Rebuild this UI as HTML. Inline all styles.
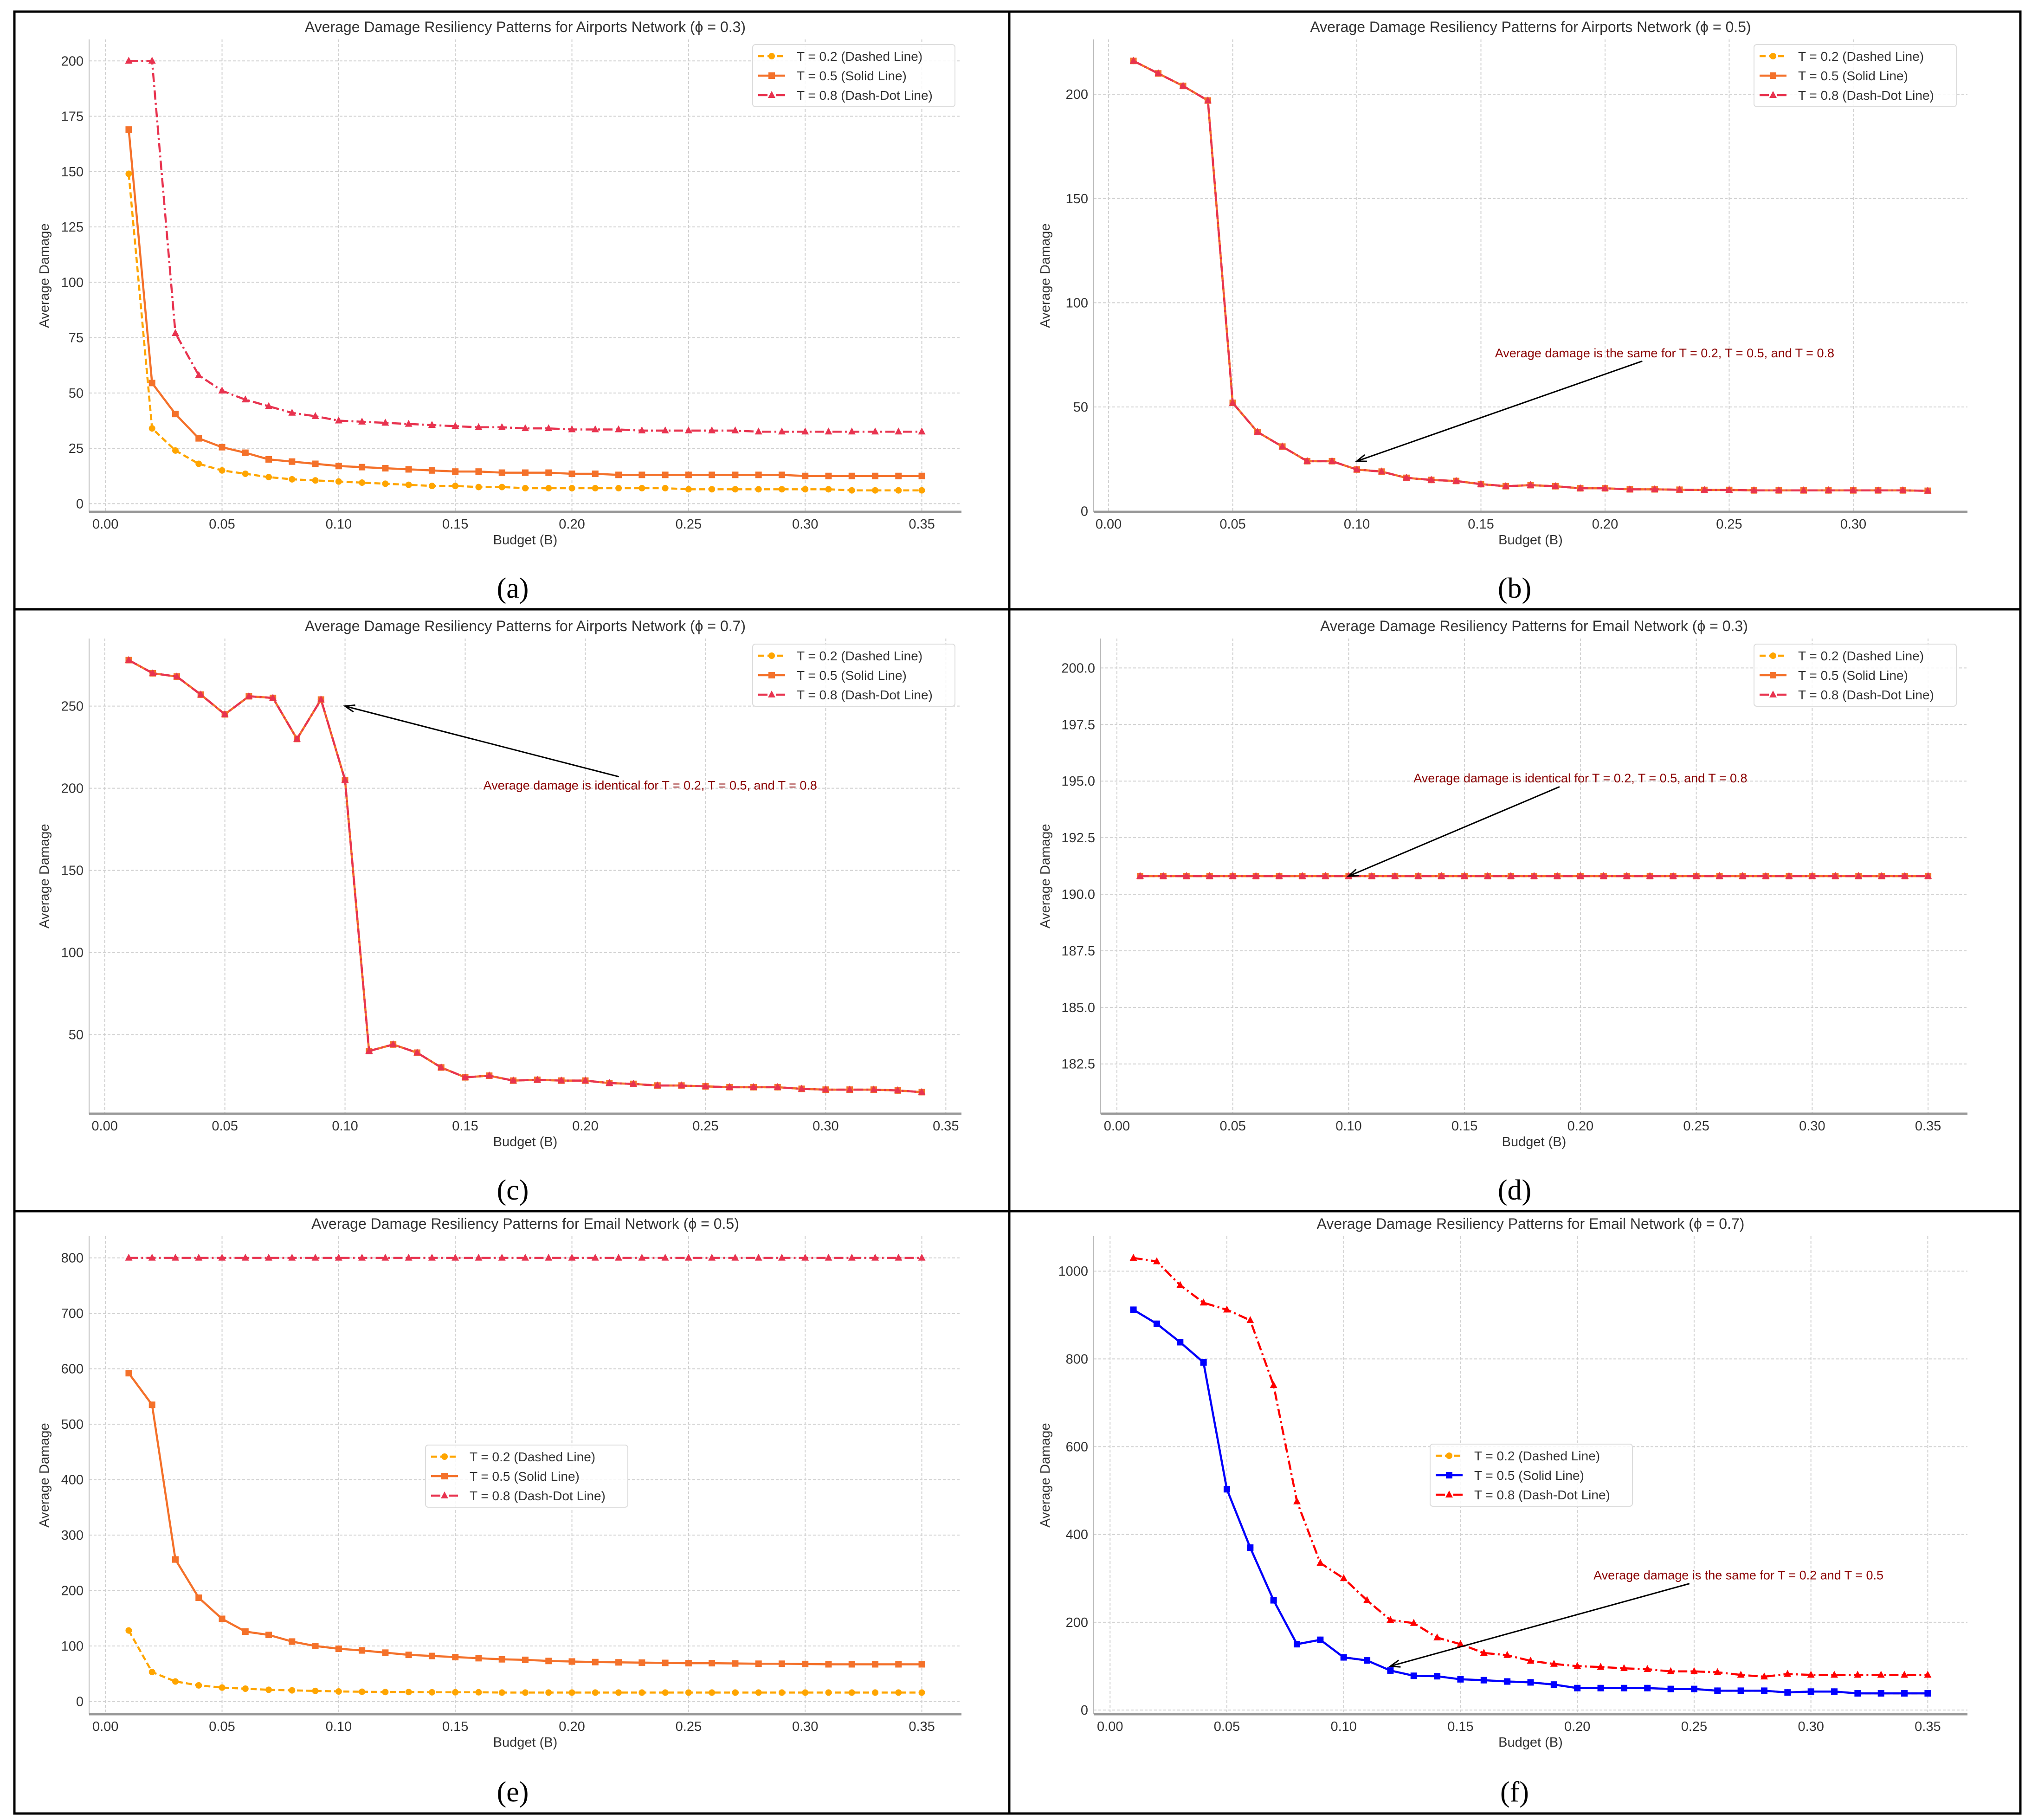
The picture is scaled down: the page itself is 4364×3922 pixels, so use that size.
<!DOCTYPE html>
<html><head><meta charset="utf-8"><style>
html,body{margin:0;padding:0;background:#fff;}
svg{display:block;font-family:"Liberation Sans","DejaVu Sans",sans-serif;}
</style></head><body>
<svg id="fig" width="4364" height="3922" viewBox="0 0 4364 3922" xmlns="http://www.w3.org/2000/svg">
<rect x="0" y="0" width="4364" height="3922" fill="#fff"/>
<g stroke="#000" stroke-width="5" fill="none">
<rect x="31" y="25" width="4323" height="3883"/>
<line x1="2175" y1="25" x2="2175" y2="3908"/>
<line x1="31" y1="1313" x2="4354" y2="1313"/>
<line x1="31" y1="2610" x2="4354" y2="2610"/>
</g>
</svg>
<script>
// ---------- data ----------
const budget35 = [0.01,0.02,0.03,0.04,0.05,0.06,0.07,0.08,0.09,0.10,0.11,0.12,0.13,0.14,0.15,0.16,0.17,0.18,0.19,0.20,0.21,0.22,0.23,0.24,0.25,0.26,0.27,0.28,0.29,0.30,0.31,0.32,0.33,0.34,0.35];
const budget33 = budget35.slice(0,33);
const budget34 = budget35.slice(0,34);

const aT02 = [149,34,24,18,15,13.5,12,11,10.5,10,9.5,9,8.5,8,8,7.5,7.5,7,7,7,7,7,7,7,6.5,6.5,6.5,6.5,6.5,6.5,6.5,6,6,6,6];
const aT05 = [169,54.5,40.5,29.5,25.5,23,20,19,18,17,16.5,16,15.5,15,14.5,14.5,14,14,14,13.5,13.5,13,13,13,13,13,13,13,13,12.5,12.5,12.5,12.5,12.5,12.5];
const aT08 = [200,200,77,58,51,47,44,41,39.5,37.5,37,36.5,36,35.5,35,34.5,34.5,34,34,33.5,33.5,33.5,33,33,33,33,33,32.5,32.5,32.5,32.5,32.5,32.5,32.5,32.5];

const bAll = [216,210,204,197,52,38,31,24,24,20,19,16,15,14.5,13,12,12.5,12,11,11,10.5,10.5,10.3,10.2,10.2,10,10,10,10,10,10,10,9.8];

const cAll = [278,270,268,257,245,256,255,230,254,205,40,44,39,30,24,25,22,22.5,22,22,20.5,20,19,19,18.5,18,18,18,17,16.5,16.5,16.5,16,15];

const dAll = [190.8,190.8,190.8,190.8,190.8,190.8,190.8,190.8,190.8,190.8,190.8,190.8,190.8,190.8,190.8,190.8,190.8,190.8,190.8,190.8,190.8,190.8,190.8,190.8,190.8,190.8,190.8,190.8,190.8,190.8,190.8,190.8,190.8,190.8,190.8];

const eT02 = [128,53,36,29,25,23,21,20,19,18,17.5,17,17,16.5,16.5,16.5,16,16,16,16,16,16,16,16,16,16,16,16,16,16,16,16,16,16,16];
const eT05 = [592,535,256,187,149,126,120,108,100,95,92,88,84,82,80,78,76,75,73,72,71,70.5,70,69.5,69,69,68.5,68,68,67.5,67,67,67,67,67];
const eT08 = [800,800,800,800,800,800,800,800,800,800,800,800,800,800,800,800,800,800,800,800,800,800,800,800,800,800,800,800,800,800,800,800,800,800,800];

const fT05 = [912,880,838,792,503,370,250,150,160,120,113,90,78,77,70,68,65,63,58,50,50,50,50,48,48,44,44,44,40,42,42,38,38,38,38];
const fT02 = fT05.slice();
const fT08 = [1030,1022,968,928,912,888,740,475,335,300,250,205,198,165,150,130,125,112,105,100,98,95,93,88,88,86,80,76,82,80,80,80,80,80,80];

const xTicks35 = [0,0.05,0.10,0.15,0.20,0.25,0.30,0.35];
const xTicks30 = [0,0.05,0.10,0.15,0.20,0.25,0.30];
const yTicksA = [0,25,50,75,100,125,150,175,200];
const yTicksB = [0,50,100,150,200];
const yTicksC = [50,100,150,200,250];
const yTicksD = [182.5,185.0,187.5,190.0,192.5,195.0,197.5,200.0];
const yTicksE = [0,100,200,300,400,500,600,700,800];
const yTicksF = [0,200,400,600,800,1000];

const legendLabels = ["T = 0.2 (Dashed Line)","T = 0.5 (Solid Line)","T = 0.8 (Dash-Dot Line)"];

// ---------- drawing ----------
const NS="http://www.w3.org/2000/svg";
const svg=document.getElementById('fig');
function mk(tag,attrs,parent){const e=document.createElementNS(NS,tag);for(const k in attrs)e.setAttribute(k,attrs[k]);(parent||svg).appendChild(e);return e;}

const ORANGE="#FFA500", ORED="#F4712A", CRIM="#E8334F";
const styles=[{dash:"13,7",marker:"circle"},{dash:"",marker:"square"},{dash:"20,7,4,7",marker:"tri"}];

function marker(g,type,x,y,col){
  let m;
  if(type==="circle") m=mk('circle',{cx:x,cy:y,r:7,fill:col},g);
  else if(type==="square") m=mk('rect',{x:x-7,y:y-7,width:14,height:14,fill:col},g);
  else m=mk('polygon',{points:`${x},${y-9} ${x-8},${y+6} ${x+8},${y+6}`,fill:col},g);
  
  
}

function panel(p){
  const g=mk('g',{},svg);
  
  
  const L=p.L,R=p.R,T=p.T,B=p.B;
  const sx=v=>L+(v-p.xd[0])/(p.xd[1]-p.xd[0])*(R-L);
  const sy=v=>B-(v-p.yd[0])/(p.yd[1]-p.yd[0])*(B-T);
  // grid
  const grid=mk('g',{stroke:"#d0d0d0","stroke-width":2,"stroke-dasharray":"6,4"},g);
  
  
  p.xt.forEach(v=>mk('line',{x1:sx(v),x2:sx(v),y1:T,y2:B},grid));
  p.yt.forEach(v=>mk('line',{x1:L,x2:R,y1:sy(v),y2:sy(v)},grid));
  // spines
  const ls=mk('line',{x1:L,x2:L,y1:T,y2:B,stroke:"#bbb","stroke-width":2},g);
  
  
  const bs=mk('line',{x1:L,x2:R,y1:B,y2:B,stroke:"#999","stroke-width":5},g);
  
  
  // tick labels
  p.xt.forEach(v=>{const t=mk('text',{x:sx(v),y:B+36,"font-size":29,"text-anchor":"middle",fill:"#333"},g);t.textContent=v.toFixed(2);
    
    });
  p.yt.forEach(v=>{const t=mk('text',{x:L-12,y:sy(v)+10,"font-size":29,"text-anchor":"end",fill:"#333"},g);t.textContent=p.yfmt?v.toFixed(1):String(v);
    
    });
  // titles
  const tt=mk('text',{x:(L+R)/2,y:T-16,"font-size":32,"text-anchor":"middle",fill:"#333"},g);tt.textContent=p.title;
  
  
  const xl=mk('text',{x:(L+R)/2,y:B+70,"font-size":29,"text-anchor":"middle",fill:"#333"},g);xl.textContent="Budget (B)";
  
  
  const yx=p.ylx, yy=(T+B)/2;
  const yl=mk('text',{x:yx,y:yy,"font-size":29,"text-anchor":"middle",fill:"#333",transform:`rotate(-90 ${yx} ${yy})`},g);yl.textContent="Average Damage";
  
  
  const cap=mk('text',{x:p.capx,y:p.capy,"font-size":62,"text-anchor":"middle",fill:"#000","font-family":"Liberation Serif, serif"},g);cap.textContent="("+p.tag+")";
  
  
  // series
  p.series.forEach((s,i)=>{
    const sg=mk('g',{},g);
    
    
    const pts=s.y.map((v,j)=>sx(s.x[j])+","+sy(v)).join(" ");
    const pl=mk('polyline',{points:pts,fill:"none",stroke:s.c,"stroke-width":4.5,"stroke-dasharray":styles[i].dash,"stroke-linejoin":"round"},sg);
    
    
    s.y.forEach((v,j)=>marker(sg,styles[i].marker,sx(s.x[j]),sy(v),s.c));
  });
  // annotation
  if(p.ann){
    const a=p.ann;
    const ag=mk('g',{},g);
    
    
    const t=mk('text',{x:sx(a.tx),y:sy(a.ty)+10,"font-size":27,"text-anchor":"middle",fill:"#8B0000"},ag);t.textContent=a.text;
    const x1=sx(a.sx),y1=sy(a.sy),x2=sx(a.ex),y2=sy(a.ey);
    mk('line',{x1:x1,y1:y1,x2:x2,y2:y2,stroke:"#000","stroke-width":3},ag);
    const ang=Math.atan2(y2-y1,x2-x1),h=22;
    const p1=[x2-h*Math.cos(ang-0.35),y2-h*Math.sin(ang-0.35)],p2=[x2-h*Math.cos(ang+0.35),y2-h*Math.sin(ang+0.35)];
    mk('polyline',{points:`${p1} ${x2},${y2} ${p2}`,fill:"none",stroke:"#000","stroke-width":3},ag);
  }
  // legend
  const lg=mk('g',{},g);
  
  
  const [lx,ly]=p.leg;
  mk('rect',{x:lx,y:ly,width:436,height:134,rx:6,fill:"#fff","fill-opacity":0.85,stroke:"#ddd","stroke-width":2},lg);
  p.series.forEach((s,i)=>{
    const yy=ly+25+i*42;
    const le=mk('g',{},lg);
    
    
    mk('line',{x1:lx+12,x2:lx+70,y1:yy,y2:yy,stroke:s.c,"stroke-width":4.5,"stroke-dasharray":styles[i].dash},le);
    marker(le,styles[i].marker,lx+41,yy,s.c);
    const t=mk('text',{x:lx+95,y:yy+10,"font-size":28,fill:"#333"},le);t.textContent=legendLabels[i];
  });
}

const xd35=[-0.007,0.367], xd33=[-0.006,0.346], xd34=[-0.0065,0.3565];
const LL=192, LR=2072, RL=2357, RR=2245+2000;
const rows=[[85,1103],[1376,2400],[2664,3694]];
const capL=1105, capR=3264, capY=[1288,2585,3882];

panel({tag:"a",title:"Average Damage Resiliency Patterns for Airports Network (ϕ = 0.3)",L:LL,R:LR,T:rows[0][0],B:rows[0][1],xd:xd35,yd:[-3.7,209.7],xt:xTicks35,yt:yTicksA,ylx:105,capx:capL,capy:capY[0],leg:[1622,96],
  series:[{x:budget35,y:aT02,c:ORANGE},{x:budget35,y:aT05,c:ORED},{x:budget35,y:aT08,c:CRIM}]});
panel({tag:"b",title:"Average Damage Resiliency Patterns for Airports Network (ϕ = 0.5)",L:RL,R:4240,T:rows[0][0],B:rows[0][1],xd:xd33,yd:[-0.3,226.3],xt:xTicks30,yt:yTicksB,ylx:2262,capx:capR,capy:capY[0],leg:[3780,96],
  series:[{x:budget33,y:bAll,c:ORANGE},{x:budget33,y:bAll,c:ORED},{x:budget33,y:bAll,c:CRIM}],
  ann:{text:"Average damage is the same for T = 0.2, T = 0.5, and T = 0.8",tx:0.224,ty:76,sx:0.215,sy:72,ex:0.10,ey:24}});
panel({tag:"c",title:"Average Damage Resiliency Patterns for Airports Network (ϕ = 0.7)",L:LL,R:LR,T:rows[1][0],B:rows[1][1],xd:xd34,yd:[1.85,291.15],xt:xTicks35,yt:yTicksC,ylx:105,capx:capL,capy:capY[1],leg:[1622,1388],
  series:[{x:budget34,y:cAll,c:ORANGE},{x:budget34,y:cAll,c:ORED},{x:budget34,y:cAll,c:CRIM}],
  ann:{text:"Average damage is identical for T = 0.2, T = 0.5, and T = 0.8",tx:0.227,ty:202,sx:0.214,sy:207,ex:0.10,ey:250}});
panel({tag:"d",title:"Average Damage Resiliency Patterns for Email Network (ϕ = 0.3)",L:2372,R:4240,T:rows[1][0],B:rows[1][1],xd:xd35,yd:[180.3,201.3],xt:xTicks35,yt:yTicksD,yfmt:1,ylx:2262,capx:capR,capy:capY[1],leg:[3780,1388],
  series:[{x:budget35,y:dAll,c:ORANGE},{x:budget35,y:dAll,c:ORED},{x:budget35,y:dAll,c:CRIM}],
  ann:{text:"Average damage is identical for T = 0.2, T = 0.5, and T = 0.8",tx:0.200,ty:195.15,sx:0.191,sy:194.75,ex:0.10,ey:190.8}});
panel({tag:"e",title:"Average Damage Resiliency Patterns for Email Network (ϕ = 0.5)",L:LL,R:LR,T:rows[2][0],B:rows[2][1],xd:xd35,yd:[-23,839],xt:xTicks35,yt:yTicksE,ylx:105,capx:capL,capy:capY[2],leg:[917,3114],
  series:[{x:budget35,y:eT02,c:ORANGE},{x:budget35,y:eT05,c:ORED},{x:budget35,y:eT08,c:CRIM}]});
panel({tag:"f",title:"Average Damage Resiliency Patterns for Email Network (ϕ = 0.7)",L:RL,R:4240,T:rows[2][0],B:rows[2][1],xd:xd35,yd:[-9.5,1079.5],xt:xTicks35,yt:yTicksF,ylx:2262,capx:capR,capy:capY[2],leg:[3082,3112],
  series:[{x:budget35,y:fT02,c:ORANGE},{x:budget35,y:fT05,c:"#0000FF"},{x:budget35,y:fT08,c:"#FF0000"}],
  ann:{text:"Average damage is the same for T = 0.2 and T = 0.5",tx:0.269,ty:308,sx:0.248,sy:288,ex:0.12,ey:100}});
</script>
</body></html>
